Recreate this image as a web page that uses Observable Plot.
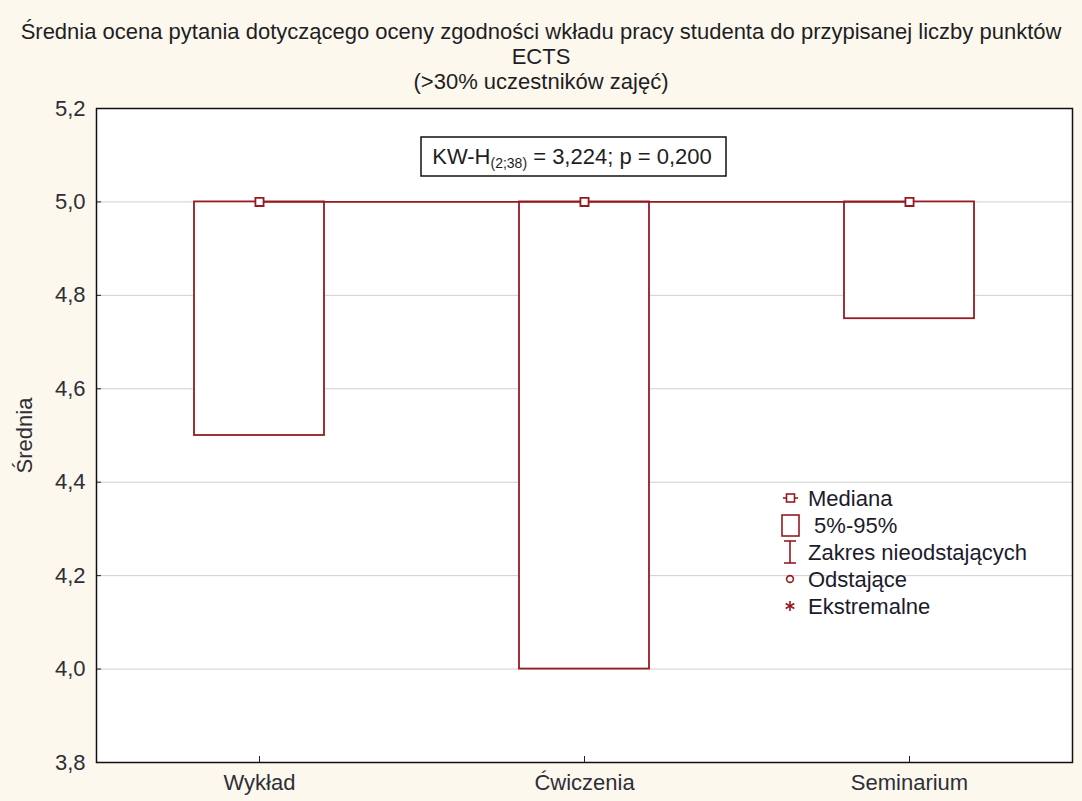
<!DOCTYPE html>
<html>
<head>
<meta charset="utf-8">
<script src="https://cdn.jsdelivr.net/npm/d3@7"></script>
<script src="https://cdn.jsdelivr.net/npm/@observablehq/plot@0.6"></script>
<style>
  html, body { margin: 0; padding: 0; background: #fdf8ee; }
  #wrap { position: relative; width: 1082px; height: 801px; font-family: "Liberation Sans", Arial, sans-serif; }
  #title { position: absolute; left: 0; top: 19px; width: 1082px; text-align: center; font-size: 22px; line-height: 25px; color: #1e1e24; }
  #chart { position: absolute; left: 0; top: 0; }
</style>
</head>
<body>
<div id="wrap">
  <div id="chart"></div>
  <div id="title">Średnia ocena pytania dotyczącego oceny zgodności wkładu pracy studenta do przypisanej liczby punktów<br>ECTS<br>(&gt;30% uczestników zajęć)</div>
</div>
<script>
// ---- data ----
const categories = ["Wykład", "Ćwiczenia", "Seminarium"];
const medians = [5.0, 5.0, 5.0];
const p05 = [4.5, 4.0, 4.75];
const p95 = [5.0, 5.0, 5.0];
const yTicks = [3.8, 4.0, 4.2, 4.4, 4.6, 4.8, 5.0, 5.2];
const gridTicks = [4.0, 4.2, 4.4, 4.6, 4.8, 5.0];
const legendLabels = ["Mediana", " 5%-95%", "Zakres nieodstających", "Odstające", "Ekstremalne"];
const testName = "KW-H";
const testDf = "(2;38)";
const testRest = " = 3,224; p = 0,200";

const red = "#961b21";
const data = categories.map((c, i) => ({cat: c, med: medians[i], lo: p05[i], hi: p95[i]}));
const fmt = d => d.toFixed(1).replace(".", ",");

const plot = Plot.plot({
  width: 1082, height: 801,
  marginTop: 108, marginLeft: 96, marginRight: 10, marginBottom: 39,
  style: {background: "transparent", fontFamily: "Liberation Sans, Arial, sans-serif", fontSize: "22px", color: "#2e2e38"},
  x: {type: "band", domain: categories, paddingInner: 0.6, paddingOuter: 0.3},
  y: {domain: [3.8, 5.2]},
  marks: [
    Plot.frame({fill: "white", stroke: "none"}),
    Plot.gridY(gridTicks, {stroke: "#cfcfcf", strokeOpacity: 1}),
    Plot.ruleY(yTicks, {insetRight: 971, stroke: "#222"}),
    Plot.ruleX(categories, {insetTop: 648, stroke: "#222"}),
    Plot.barY(data, {x: "cat", y1: "lo", y2: "hi", fill: "white", stroke: red, strokeWidth: 1.8}),
    Plot.line(data, {x: "cat", y: "med", stroke: red, strokeWidth: 1.8}),
    Plot.dot(data, {x: "cat", y: "med", symbol: "square", r: 4.6, stroke: red, fill: "white", strokeWidth: 1.8}),
    Plot.axisY({ticks: yTicks, tickFormat: fmt, tickSize: 0, tickPadding: 11, label: "Średnia", labelArrow: "none", labelAnchor: "center", labelOffset: 80}),
    Plot.axisX({tickSize: 0, tickPadding: 12, label: null}),
    Plot.frame({stroke: "#111", strokeWidth: 1.5})
  ]
});
document.getElementById("chart").appendChild(plot);

// ---- annotation box and legend (decoration) ----
const svg = d3.select(plot);
const ann = svg.append("g");
ann.append("rect").attr("x", 421).attr("y", 137).attr("width", 305).attr("height", 39)
  .attr("fill", "white").attr("stroke", "#111").attr("stroke-width", 1.5);
const t = ann.append("text").attr("x", 572).attr("y", 164).attr("text-anchor", "middle")
  .attr("font-size", 22).attr("fill", "#1e1e24");
t.append("tspan").text(testName);
t.append("tspan").attr("font-size", 14).attr("dy", 4).text(testDf);
t.append("tspan").attr("dy", -4).text(testRest);

const lg = svg.append("g").attr("stroke", red).attr("fill", "none").attr("stroke-width", 1.6);
const rows = [498, 525, 552, 579, 606];
lg.append("line").attr("x1", 783).attr("x2", 798).attr("y1", rows[0]).attr("y2", rows[0]);
lg.append("rect").attr("x", 786.5).attr("y", rows[0] - 4).attr("width", 8).attr("height", 8).attr("fill", "white");
lg.append("rect").attr("x", 782).attr("y", rows[1] - 10).attr("width", 17).attr("height", 21).attr("fill", "white");
lg.append("line").attr("x1", 790).attr("x2", 790).attr("y1", rows[2] - 11).attr("y2", rows[2] + 11);
lg.append("line").attr("x1", 784).attr("x2", 796).attr("y1", rows[2] - 11).attr("y2", rows[2] - 11);
lg.append("line").attr("x1", 784).attr("x2", 796).attr("y1", rows[2] + 11).attr("y2", rows[2] + 11);
lg.append("circle").attr("cx", 790).attr("cy", rows[3]).attr("r", 3.4);
[[0, 5], [60, 5], [120, 5]].forEach(([a, r]) => {
  const rad = a * Math.PI / 180;
  lg.append("line").attr("x1", 790 - r * Math.sin(rad)).attr("y1", rows[4] - r * Math.cos(rad))
    .attr("x2", 790 + r * Math.sin(rad)).attr("y2", rows[4] + r * Math.cos(rad));
});
const lt = svg.append("g").attr("font-size", 22).attr("fill", "#1b1b2c").attr("text-anchor", "start");
legendLabels.forEach((s, i) => {
  lt.append("text").attr("x", 808).attr("y", rows[i] + 8).attr("text-anchor", "start").style("white-space", "pre").text(s);
});
</script>
</body>
</html>
